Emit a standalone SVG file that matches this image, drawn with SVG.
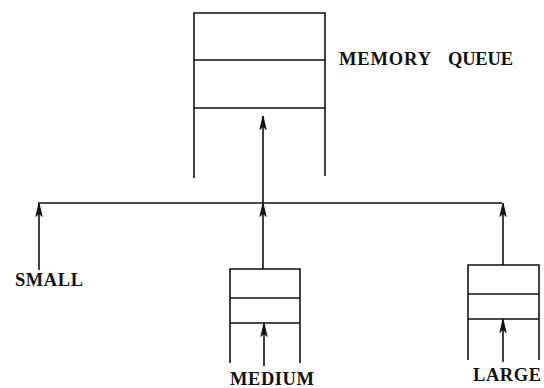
<svg xmlns="http://www.w3.org/2000/svg" width="544" height="388" viewBox="0 0 544 388">
<style>
.ln{stroke:#111;stroke-width:1.6;fill:none}
.t{font-family:"Liberation Serif",serif;font-weight:bold;font-size:18.5px;fill:#111}
</style>
<defs>
<marker id="ah" markerWidth="14" markerHeight="8" refX="13.5" refY="4" orient="auto" markerUnits="userSpaceOnUse" viewBox="0 0 14 8">
<path d="M0,0.8 L13.5,4 L0,7.2 L3,4 Z" fill="#111" stroke="#111" stroke-width="0.8" stroke-linejoin="round"/>
</marker>
</defs>
<rect width="544" height="388" fill="#fff"/>
<g id="memory-queue">
<path class="ln" d="M194,178 V13 H325 V176 M194,60 H325 M194,108 H325"/>
<text class="t" x="339" y="65" textLength="92" lengthAdjust="spacing">MEMORY</text>
<text class="t" x="448" y="65" textLength="65" lengthAdjust="spacing">QUEUE</text>
</g>
<g id="small">
<text class="t" x="15" y="286" textLength="68" lengthAdjust="spacing">SMALL</text>
</g>
<g id="medium">
<path class="ln" d="M230,363 V269 H300 V363 M230,298 H300 M230,323 H300"/>
<text class="t" x="230" y="385" textLength="84" lengthAdjust="spacing">MEDIUM</text>
</g>
<g id="large">
<path class="ln" d="M468,360 V265 H539 V360 M468,294 H539 M468,319 H539"/>
<text class="t" x="473" y="381" textLength="68" lengthAdjust="spacing">LARGE</text>
</g>
<g id="connectors">
<path class="ln" d="M38,203 H502"/>
<path class="ln" d="M263,203 V116" marker-end="url(#ah)"/>
<path class="ln" d="M39,270 V203" marker-end="url(#ah)"/>
<path class="ln" d="M263,269 V203" marker-end="url(#ah)"/>
<path class="ln" d="M503,265 V203" marker-end="url(#ah)"/>
<path class="ln" d="M264,366 V323" marker-end="url(#ah)"/>
<path class="ln" d="M503,362 V319" marker-end="url(#ah)"/>
</g>
</svg>
